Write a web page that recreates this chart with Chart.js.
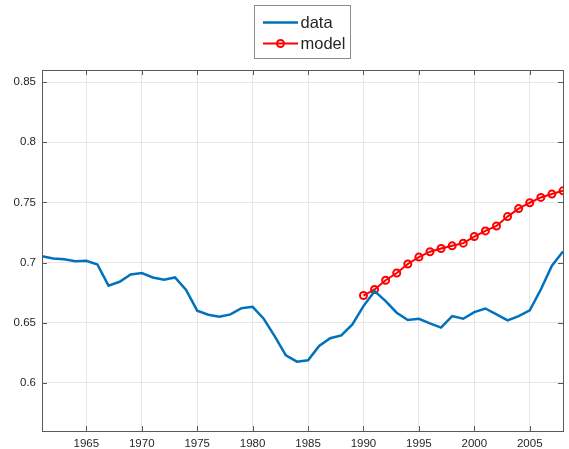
<!DOCTYPE html>
<html>
<head>
<meta charset="utf-8">
<script src="https://cdn.jsdelivr.net/npm/chart.js@4/dist/chart.umd.min.js"></script>
<style>
  html, body { margin: 0; padding: 0; background: #fff; }
  #wrap { width: 569px; height: 449px; }
</style>
</head>
<body>
<div id="wrap"><canvas id="chart" width="569" height="449"></canvas></div>
<script>
const dataYears = [1961, 1962, 1963, 1964, 1965, 1966, 1967, 1968, 1969, 1970,
  1971, 1972, 1973, 1974, 1975, 1976, 1977, 1978, 1979, 1980,
  1981, 1982, 1983, 1984, 1985, 1986, 1987, 1988, 1989, 1990,
  1991, 1992, 1993, 1994, 1995, 1996, 1997, 1998, 1999, 2000,
  2001, 2002, 2003, 2004, 2005, 2006, 2007, 2008];
const dataValues = [0.7052, 0.7033, 0.7027, 0.7011, 0.7014, 0.6984, 0.6808, 0.684, 0.690, 0.6912,
  0.6876, 0.6857, 0.6876, 0.6772, 0.660, 0.6566, 0.655, 0.6569, 0.662, 0.6632,
  0.6533, 0.6387, 0.6228, 0.6176, 0.6187, 0.6307, 0.6371, 0.6395, 0.6486, 0.6638,
  0.6762, 0.6679, 0.6583, 0.6522, 0.6533, 0.6494, 0.6459, 0.6555, 0.6533, 0.6588,
  0.6618, 0.6569, 0.6519, 0.6555, 0.6602, 0.6776, 0.6974, 0.7092];

const modelYears = [1990, 1991, 1992, 1993, 1994, 1995, 1996, 1997, 1998, 1999,
  2000, 2001, 2002, 2003, 2004, 2005, 2006, 2007, 2008];
const modelValues = [0.6726, 0.6776, 0.6853, 0.6913, 0.6988, 0.7045, 0.7090, 0.7117, 0.7139, 0.7161,
  0.7216, 0.7263, 0.7304, 0.7382, 0.7448, 0.7497, 0.7541, 0.7569, 0.7596];

const xTicks = [1965, 1970, 1975, 1980, 1985, 1990, 1995, 2000, 2005];
const yTicks = [0.6, 0.65, 0.7, 0.75, 0.8, 0.85];

const seriesNames = ["data", "model"];
const blue = "#0072BD";
const red = "#FF0000";
const axisColor = "#5a5a5a";
const textColor = "#262626";

// box around the plot, inward tick marks, legend like MATLAB
const matlabLook = {
  id: "matlabLook",
  afterDraw(chart) {
    const ctx = chart.ctx;
    const a = chart.chartArea;
    const xs = chart.scales.x, ys = chart.scales.y;
    ctx.save();
    ctx.strokeStyle = axisColor;
    ctx.lineWidth = 1;
    ctx.strokeRect(Math.round(a.left) + 0.5, Math.round(a.top) + 0.5,
      Math.round(a.right - a.left), Math.round(a.bottom - a.top));
    ctx.beginPath();
    xTicks.forEach(v => {
      const px = Math.round(xs.getPixelForValue(v)) + 0.5;
      ctx.moveTo(px, a.bottom); ctx.lineTo(px, a.bottom - 5);
      ctx.moveTo(px, a.top); ctx.lineTo(px, a.top + 5);
    });
    yTicks.forEach(v => {
      const py = Math.round(ys.getPixelForValue(v)) + 0.5;
      ctx.moveTo(a.left, py); ctx.lineTo(a.left + 5, py);
      ctx.moveTo(a.right, py); ctx.lineTo(a.right - 5, py);
    });
    ctx.stroke();

    // legend
    const lx = 254.5, ly = 5.5, lw = 96, lh = 53;
    ctx.fillStyle = "#fff";
    ctx.fillRect(lx, ly, lw, lh);
    ctx.strokeStyle = "#8c8c8c";
    ctx.strokeRect(lx, ly, lw, lh);
    ctx.font = "16.5px 'Liberation Sans', Arial, sans-serif";
    ctx.textBaseline = "middle";
    ctx.fillStyle = textColor;
    const rows = [22.5, 43.5];
    ctx.lineWidth = 2.5;
    ctx.strokeStyle = blue;
    ctx.beginPath(); ctx.moveTo(263, rows[0]); ctx.lineTo(298, rows[0]); ctx.stroke();
    ctx.lineWidth = 2;
    ctx.strokeStyle = red;
    ctx.beginPath(); ctx.moveTo(263, rows[1]); ctx.lineTo(298, rows[1]); ctx.stroke();
    ctx.beginPath(); ctx.arc(280.5, rows[1], 3.5, 0, Math.PI * 2); ctx.stroke();
    ctx.fillText(seriesNames[0], 300.5, rows[0] + 1);
    ctx.fillText(seriesNames[1], 300.5, rows[1] + 1);
    ctx.restore();
  }
};

new Chart(document.getElementById("chart"), {
  type: "line",
  data: {
    datasets: [{
      label: seriesNames[0],
      data: dataYears.map((yr, i) => ({ x: yr, y: dataValues[i] })),
      borderColor: blue,
      borderWidth: 2.5,
      pointRadius: 0,
      tension: 0
    }, {
      label: seriesNames[1],
      data: modelYears.map((yr, i) => ({ x: yr, y: modelValues[i] })),
      borderColor: red,
      borderWidth: 2,
      pointRadius: 3.5,
      pointBorderWidth: 2,
      pointBorderColor: red,
      pointBackgroundColor: "rgba(255,255,255,0)",
      tension: 0
    }]
  },
  options: {
    responsive: false,
    animation: false,
    layout: { padding: { top: 70, right: 5, left: 0, bottom: 0 } },
    plugins: {
      legend: { display: false },
      tooltip: { enabled: false }
    },
    scales: {
      x: {
        type: "linear",
        min: 1961,
        max: 2008,
        afterBuildTicks: s => { s.ticks = xTicks.map(v => ({ value: v })); },
        afterFit: s => { s.height = 18; },
        grid: { color: "#e6e6e6", drawTicks: false },
        border: { display: false },
        ticks: {
          padding: 6,
          color: textColor,
          font: { family: "'Liberation Sans', Arial, sans-serif", size: 11.5 },
          callback: v => String(v),
          maxRotation: 0
        }
      },
      y: {
        min: 0.56,
        max: 0.86,
        afterBuildTicks: s => { s.ticks = yTicks.map(v => ({ value: v })); },
        afterFit: s => { s.width = 42; },
        grid: { color: "#e6e6e6", drawTicks: false },
        border: { display: false },
        ticks: {
          padding: 6,
          color: textColor,
          font: { family: "'Liberation Sans', Arial, sans-serif", size: 11.5 },
          callback: v => String(v)
        }
      }
    }
  },
  plugins: [matlabLook]
});
</script>
</body>
</html>
